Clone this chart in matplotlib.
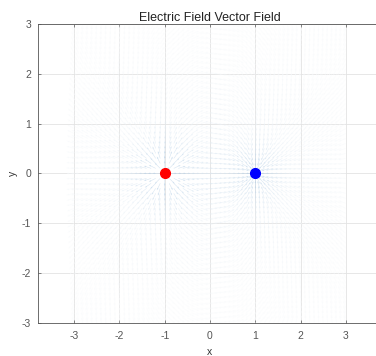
import numpy as np
import matplotlib
matplotlib.use("Agg")
import matplotlib.pyplot as plt
from matplotlib.colors import LinearSegmentedColormap

plt.rcParams['font.family'] = ['Liberation Sans', 'DejaVu Sans']
plt.rcParams['axes.unicode_minus'] = False

# charges: position and sign
charge_x = [-1.0, 1.0]
charge_y = [0.0, 0.0]
charge_q = [1.0, -1.0]
charge_colors = ['#ff0000', '#0000ff']

# sample grid for the field
grid_min, grid_max, grid_step = -3.0, 3.0, 0.1

x_ticks = [-3, -2, -1, 0, 1, 2, 3]
y_ticks = [-3, -2, -1, 0, 1, 2, 3]

# field of point charges, normalised to unit vectors
gx = np.arange(grid_min, grid_max + grid_step / 2, grid_step)
X, Y = np.meshgrid(gx, gx)
Ex = np.zeros_like(X)
Ey = np.zeros_like(Y)
for cx, cy, q in zip(charge_x, charge_y, charge_q):
    dx = X - cx
    dy = Y - cy
    r3 = (dx**2 + dy**2) ** 1.5
    r3[r3 == 0] = np.inf
    Ex += q * dx / r3
    Ey += q * dy / r3
mag = np.hypot(Ex, Ey)
mag[mag == 0] = 1
U = Ex / mag
V = Ey / mag
# shade: stronger field -> slightly darker arrows
shade = np.clip(np.log10(mag), -1.0, 1.0)

cmap = LinearSegmentedColormap.from_list('faint', ['#f8fafc', '#eaf1f7', '#b5cfe6'])

fig = plt.figure(figsize=(3.76, 3.56), dpi=100)
ax = fig.add_axes([0.101, 0.093, 0.915, 0.84])

ax.quiver(X, Y, U, V, shade, cmap=cmap, alpha=0.6, scale=45,
          width=0.0015, headwidth=3, headlength=4, zorder=1)

for cx, cy, c in zip(charge_x, charge_y, charge_colors):
    ax.plot(cx, cy, 'o', color=c, markersize=7, zorder=3)

ax.set_xlim(-3.8, 3.8)
ax.set_ylim(-3, 3)
ax.set_xticks(x_ticks)
ax.set_yticks(y_ticks)
ax.grid(True, color='#e3e3e3', linewidth=0.6, zorder=0)
ax.set_axisbelow(True)
ax.tick_params(direction='in', length=2.5, width=0.5, colors='#555555',
               labelsize=7.5, top=True, right=True)
ax.tick_params(axis='x', pad=6)
ax.tick_params(axis='y', pad=5)
for s in ax.spines.values():
    s.set_color('#555555')
    s.set_linewidth(0.6)
ax.set_xlabel('x', fontsize=7.5, color='#333333', labelpad=4)
ax.set_ylabel('y', fontsize=7.5, color='#333333', labelpad=3)
ax.set_title('Electric Field Vector Field', fontsize=9, color='#222222', pad=2)

fig.savefig('out.png', dpi=100)
